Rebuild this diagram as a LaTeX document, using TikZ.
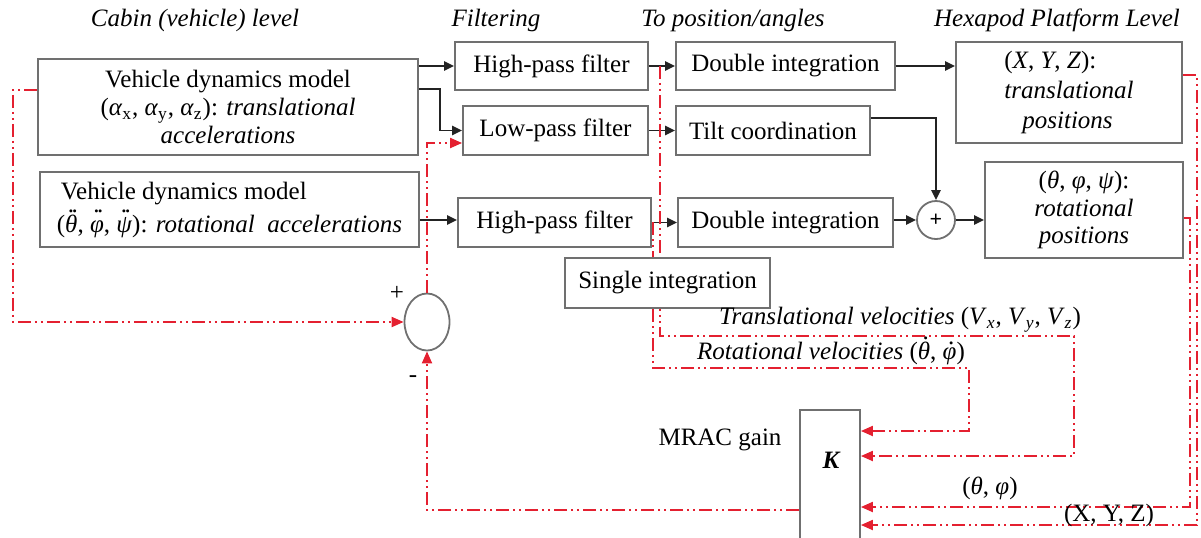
\documentclass[tikz,border=0pt]{standalone}
\usepackage{fontspec}
\setmainfont{Liberation Serif}
\usetikzlibrary{arrows.meta,shapes.geometric}
\definecolor{fbred}{RGB}{228,32,48}
\definecolor{boxgray}{RGB}{112,112,112}
\definecolor{linek}{RGB}{35,35,35}
\newcommand{\ddg}[1]{{\ooalign{#1\cr\hidewidth\kern0.12em\raisebox{0.78em}{\upshape.\kern-0.1em.}\hidewidth\cr}}}
\newcommand{\dg}[2][0.8em]{{\ooalign{#2\cr\hidewidth\kern0.14em\raisebox{#1}{\upshape.}\hidewidth\cr}}}
\begin{document}
\begin{tikzpicture}[x=0.5pt,y=-0.5pt,
  font=\fontsize{12.5}{14}\selectfont,
  box/.style={draw=boxgray,line width=0.9pt,fill=white,inner sep=0pt,align=center},
  arr/.style={draw=linek,line width=0.9pt,-{Triangle[length=5pt,width=4.6pt]}},
  rline/.style={draw=fbred,line width=1pt,dash pattern=on 6.5pt off 2pt on 1pt off 2pt on 1pt off 2pt},
  rarr/.style={rline,-{Triangle[length=6pt,width=5pt]}},
  ttl/.style={font=\fontsize{12.5}{14}\selectfont\itshape,inner sep=0pt}]
\useasboundingbox (0,0) rectangle (1201,537);
\clip (0,0) rectangle (1201,537);

% titles
\node[ttl] (t1) at (195,20) {Cabin (vehicle) level};
\node[ttl] (t2) at (496,20) {Filtering};
\node[ttl] (t3) at (733,20) {To position/angles};
\node[ttl] (t4) at (1057,20) {Hexapod Platform Level};

% boxes
\node[box,minimum width=190pt,minimum height=48pt] (vdm1) at (228,107)
  {Vehicle dynamics model\\(\textit{α}\textsubscript{x}, \textit{α}\textsubscript{y}, \textit{α}\textsubscript{z}): \textit{translational}\\\textit{accelerations}};
\node[box,minimum width=189.5pt,minimum height=37.5pt,align=left,
  font=\fontsize{12.5}{16.5}\selectfont] (vdm2) at (229.5,209.5)
  {\hspace*{2pt}Vehicle dynamics model\\(\ddg{\textit{θ}}, \ddg{\textit{φ}}, \ddg{\textit{ψ}}): \textit{rotational\ \ accelerations}};
\node[box,minimum width=96.5pt,minimum height=24pt] (hpf1) at (551.5,66) {High-pass filter};
\node[box,minimum width=92.5pt,minimum height=24.5pt] (lpf) at (555.5,130.5) {Low-pass filter};
\node[box,minimum width=96.5pt,minimum height=24.5pt] (hpf2) at (554.5,222.5) {High-pass filter};
\node[box,minimum width=109.5pt,minimum height=24pt] (di1) at (785.5,66) {Double integration};
\node[box,minimum width=97pt,minimum height=24.5pt] (tilt) at (773,130.5) {Tilt coordination};
\node[box,minimum width=107.5pt,minimum height=24.5pt] (di2) at (785.5,222.5) {Double integration};
\node[box,minimum width=113pt,minimum height=50.5pt,align=left,font=\fontsize{12.5}{15}\selectfont] (xyz) at (1069,92.5)
  {(\textit{X}, \textit{Y}, \textit{Z}):\\\textit{translational}\\\hspace*{9pt}\textit{positions}};
\node[box,minimum width=99pt,minimum height=48pt,font=\fontsize{12.5}{13.75}\selectfont] (rot) at (1084,210)
  {(\textit{θ}, \textit{φ}, \textit{ψ}):\\\textit{rotational}\\\textit{positions}};
\node[draw=boxgray,line width=0.9pt,circle,minimum size=19pt,inner sep=0pt,fill=white,
  font=\bfseries\fontsize{11}{11}\selectfont] (sum) at (936,220) {+};
\node[draw=boxgray,line width=0.9pt,ellipse,minimum width=22.5pt,minimum height=28.5pt,inner sep=0pt] (diff) at (427,322) {};
\node[box,minimum width=30pt,minimum height=67.5pt] (K) at (830,477.5) {};
\node[font=\fontsize{12.5}{14}\selectfont\bfseries\itshape,inner sep=0pt] (klab) at (831,460) {K};

% black connectors
\draw[arr] (vdm1.east |- hpf1.west) -- (hpf1.west);
\draw[arr] (vdm1.east |- 0,89) -- (440,89) |- (lpf.west);
\draw[arr] (vdm2.east |- 0,220) -- (hpf2.west |- 0,220);
\draw[arr] (hpf1.east) -- (di1.west);
\draw[arr] (lpf.east) -- (tilt.west);
\draw[arr] (hpf2.east) -- (di2.west);
\draw[arr] (di1.east) -- (di1.east -| xyz.west);
\draw[arr] (tilt.east |- 0,118) -| (sum.north);
\draw[arr] (di2.east |- sum.west) -- (sum.west);
\draw[arr] (sum.east) -- (sum.east -| rot.west);

% red feedback connectors
\coordinate (tv) at (660,66);
\coordinate (rv) at (653,222);
\draw[rarr] (vdm1.west |- 0,90) -- (13,90) |- (diff.west);
\draw[rarr] (diff.north) |- (lpf.west |- 0,143);
\draw[rarr] (K.west |- 0,510) -| (diff.south);
\draw[rarr] (tv) -- (660,336) -- (1074,336) |- (K.east |- 0,456);
\draw[rarr] (rv) -- (653,368) -- (969,368) |- (K.east |- 0,431);
\draw[rarr] (rot.east |- 0,218) -- (1190,218) |- (K.east |- 0,507);
\draw[rarr] (xyz.east |- 0,75) -- (1197,75) |- (K.east |- 0,525);

\node[box,minimum width=102.5pt,minimum height=25pt] (si) at (667.5,283) {Single integration};

% labels
\node[inner sep=0pt] (lt) at (900,320) {\textit{Translational velocities} (\textit{V}\textsubscript{\textit{x}}, \textit{V}\textsubscript{\textit{y}}, \textit{V}\textsubscript{\textit{z}})};
\node[inner sep=0pt] (lr) at (831,353) {\textit{Rotational velocities} (\dg[0.8em]{\textit{θ}}, \dg[0.6em]{\textit{φ}})};
\node[inner sep=0pt] (mrac) at (720,440) {MRAC gain};
\node[inner sep=0pt] (lthph) at (990,488) {(\textit{θ}, \textit{φ})};
\node[inner sep=0pt] (lxyz) at (1109,515) {(X, Y, Z)};
\node[inner sep=0pt] (plus) at (397,293) {+};
\node[inner sep=0pt] (minus) at (413,379) {-};
\end{tikzpicture}
\end{document}
